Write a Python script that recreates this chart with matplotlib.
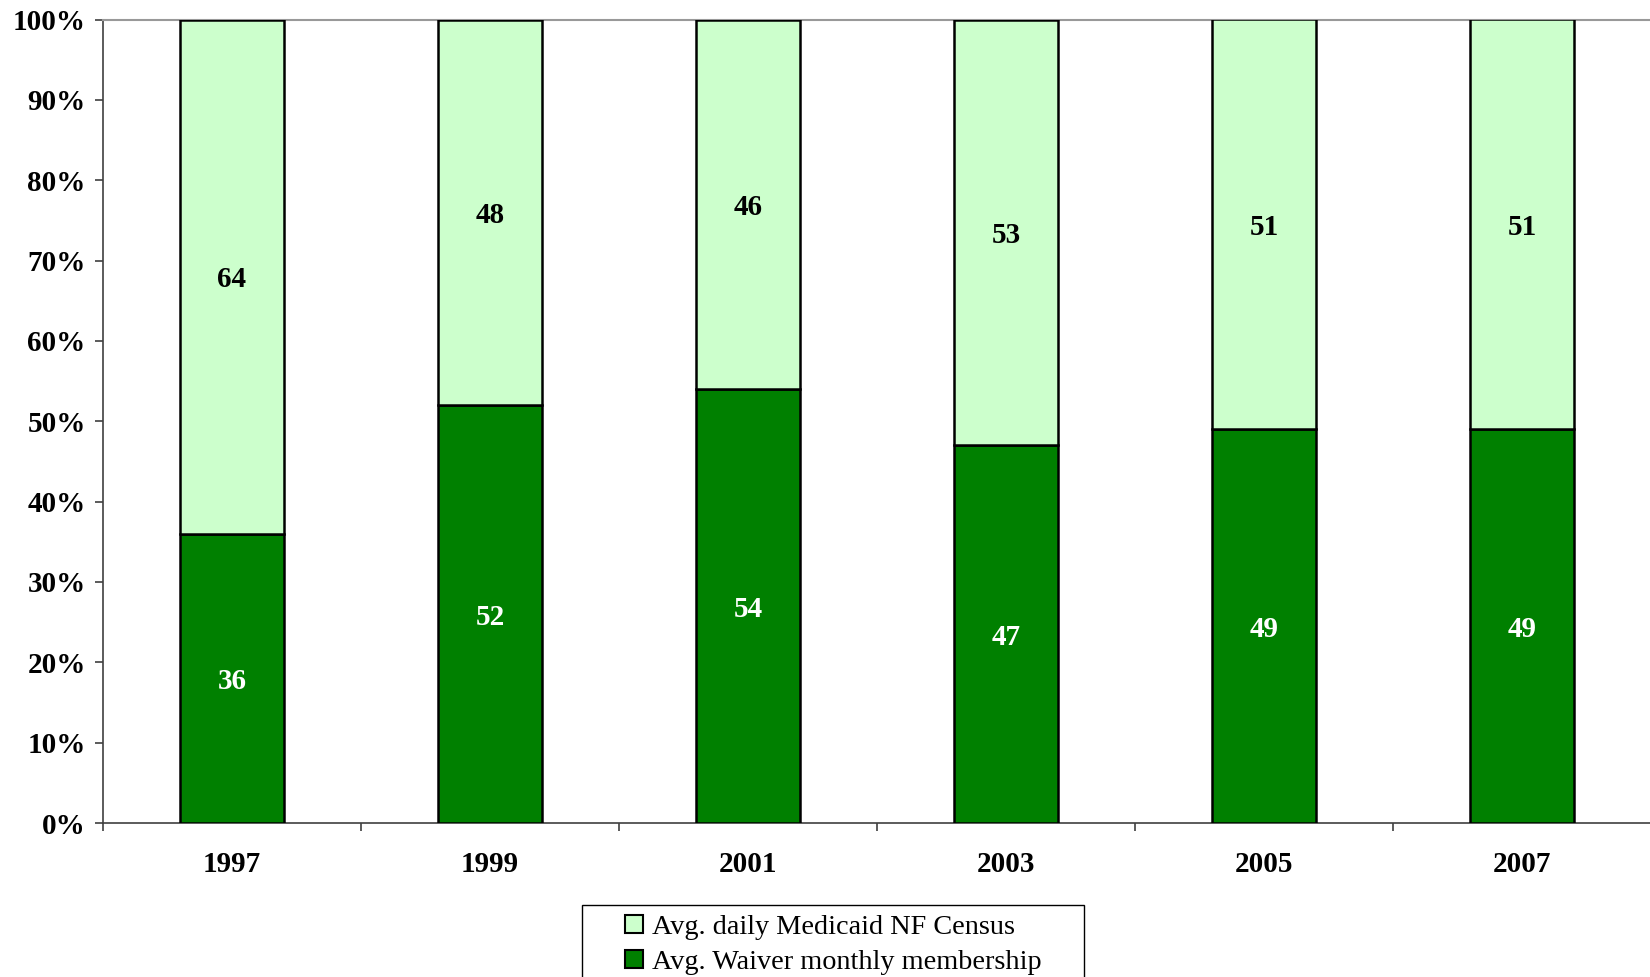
import numpy as np
import matplotlib.pyplot as plt
from matplotlib.patches import Rectangle
from matplotlib.lines import Line2D

# Share of long-term care users, by year
years = ["1997", "1999", "2001", "2003", "2005", "2007"]
waiver_members = [36, 52, 54, 47, 49, 49]     # Avg. Waiver monthly membership
nf_census = [64, 48, 46, 53, 51, 51]          # Avg. daily Medicaid NF Census

dark_green = "#008000"
light_green = "#CCFFCC"

plt.rcParams['font.family'] = ['Liberation Serif', 'DejaVu Serif']

fig = plt.figure(figsize=(16.5, 9.77), dpi=100)
ax = fig.add_axes([103 / 1650, 1 - 823 / 977, 1548 / 1650, (823 - 19.5) / 977])

x = np.arange(len(years))
bar_w = 0.40

ax.bar(x, waiver_members, width=bar_w, color=dark_green,
       edgecolor="black", linewidth=1.8, zorder=3)
ax.bar(x, nf_census, width=bar_w, bottom=waiver_members,
       color=light_green, edgecolor="black", linewidth=1.8, zorder=3)

# value labels in the middle of each segment
for i in range(len(years)):
    ax.text(x[i], waiver_members[i] / 2, str(waiver_members[i]),
            ha="center", va="center_baseline", color="white", fontsize=21,
            fontweight="bold")
    ax.text(x[i], waiver_members[i] + nf_census[i] / 2, str(nf_census[i]),
            ha="center", va="center_baseline", color="black", fontsize=21,
            fontweight="bold")

ax.set_xlim(-0.5, len(years) - 0.5)
ax.set_ylim(0, 100)

ax.set_yticks(np.arange(0, 101, 10))
ax.set_yticklabels([f"{v}%" for v in range(0, 101, 10)])
ax.tick_params(axis="y", direction="out", length=6, width=1.2, color="#404040",
               pad=6.5, labelsize=21)
for lbl in ax.get_yticklabels():
    lbl.set_fontweight("bold")

# year labels under each bar, tick marks between categories
ax.set_xticks(x)
ax.set_xticklabels(years)
ax.set_xticks(np.arange(-0.5, len(years), 1.0), minor=True)
ax.tick_params(axis="x", which="major", length=0, pad=20, labelsize=21)
ax.tick_params(axis="x", which="minor", direction="out", length=6, width=1.2,
               color="#404040")
for lbl in ax.get_xticklabels():
    lbl.set_fontweight("bold")

ax.spines["right"].set_visible(False)
ax.spines["top"].set_color("#999999")
ax.spines["top"].set_linewidth(1.5)
ax.spines["left"].set_color("#404040")
ax.spines["left"].set_linewidth(1.2)
ax.spines["bottom"].set_color("#404040")
ax.spines["bottom"].set_linewidth(1.2)

# legend box and entries
fig.patches.append(Rectangle((582 / 1650, -0.05), 502 / 1650, 0.05 + (977 - 905) / 977,
                             transform=fig.transFigure, facecolor="white",
                             edgecolor="black", linewidth=1.0, zorder=1))
handles = [
    Line2D([], [], marker="s", linestyle="none", markersize=13,
           markerfacecolor=light_green, markeredgecolor="black", markeredgewidth=1.5),
    Line2D([], [], marker="s", linestyle="none", markersize=13,
           markerfacecolor=dark_green, markeredgecolor="black", markeredgewidth=1.5),
]
fig.legend(handles, ["Avg. daily Medicaid NF Census", "Avg. Waiver monthly membership"],
           loc="upper center", bbox_to_anchor=(833 / 1650, 1 - 900 / 977), frameon=False,
           fontsize=20.3, handlelength=0.7, handletextpad=0.3, labelspacing=0.32,
           borderpad=0.0)

fig.savefig("out.png", dpi=100)
